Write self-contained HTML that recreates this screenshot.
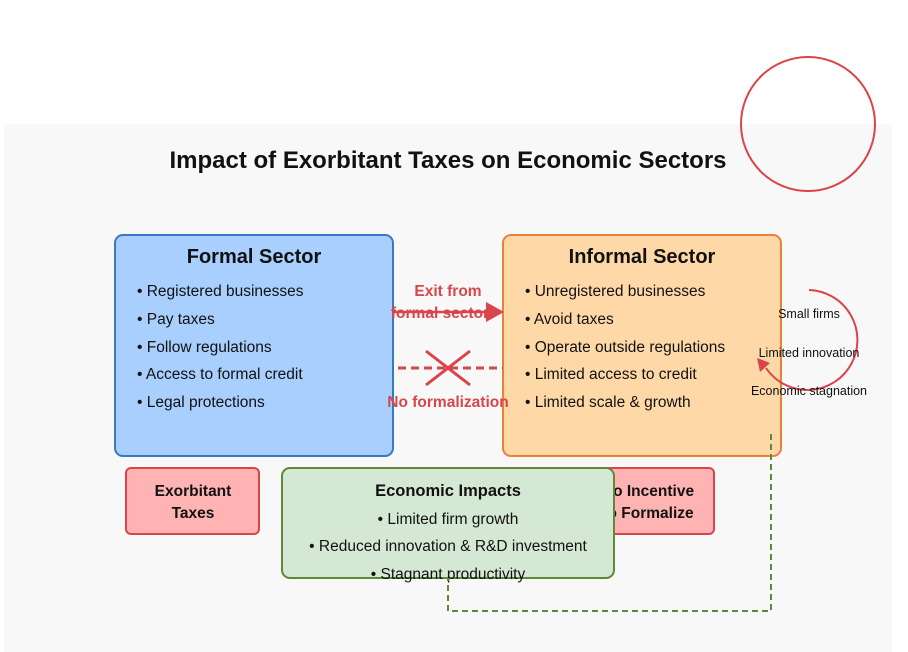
<!DOCTYPE html>
<html><head><meta charset="utf-8"><style>
html,body{margin:0;padding:0;background:#fff;}
svg{display:block;font-family:"Liberation Sans",Arial,sans-serif;}
</style></head><body>
<svg width="908" height="652" viewBox="0 0 908 652">
<rect x="4" y="124" width="888" height="528" fill="#f8f8f8"/>
<circle cx="808" cy="124" r="67" fill="none" stroke="#d9454a" stroke-width="2"/>
<text x="448" y="168" text-anchor="middle" font-size="24" font-weight="bold" fill="#111">Impact of Exorbitant Taxes on Economic Sectors</text>

<g>
<rect x="115" y="235" width="278" height="221" rx="8" fill="#a8cffd" stroke="#3a78c0" stroke-width="2"/>
<text x="254" y="263" text-anchor="middle" font-size="20" font-weight="bold" fill="#111">Formal Sector</text>
<g font-size="15.5" fill="#111">
<text x="137" y="296">• Registered businesses</text>
<text x="137" y="324">• Pay taxes</text>
<text x="137" y="352">• Follow regulations</text>
<text x="137" y="379">• Access to formal credit</text>
<text x="137" y="407">• Legal protections</text>
</g></g>

<g>
<rect x="503" y="235" width="278" height="221" rx="8" fill="#ffd8a8" stroke="#e8823a" stroke-width="2"/>
<text x="642" y="263" text-anchor="middle" font-size="20" font-weight="bold" fill="#111">Informal Sector</text>
<g font-size="15.5" fill="#111">
<text x="525" y="296">• Unregistered businesses</text>
<text x="525" y="324">• Avoid taxes</text>
<text x="525" y="352">• Operate outside regulations</text>
<text x="525" y="379">• Limited access to credit</text>
<text x="525" y="407">• Limited scale &amp; growth</text>
</g></g>

<g>
<line x1="393" y1="312" x2="488" y2="312" stroke="#d9454a" stroke-width="2.5"/>
<polygon points="486,302 504,312 486,322" fill="#d9454a"/>
<text x="448" y="296" text-anchor="middle" font-size="15.5" font-weight="bold" fill="#d9454a">Exit from</text>
<text x="440" y="318" text-anchor="middle" font-size="15.5" font-weight="bold" fill="#d9454a">formal sector</text>
</g>
<g>
<line x1="398" y1="368" x2="503" y2="368" stroke="#d9454a" stroke-width="3" stroke-dasharray="8,5"/>
<line x1="426" y1="351" x2="470" y2="385" stroke="#d9454a" stroke-width="3"/>
<line x1="470" y1="351" x2="426" y2="385" stroke="#d9454a" stroke-width="3"/>
<text x="448" y="407" text-anchor="middle" font-size="15.5" font-weight="bold" fill="#d9454a">No formalization</text>
</g>

<g>
<path d="M809,290 A50,50 0 1 1 766,368" fill="none" stroke="#d9454a" stroke-width="2"/>
<polygon points="757,358 770,363 760,372" fill="#d9454a"/>
<g font-size="12.5" fill="#111" text-anchor="middle">
<text x="809" y="318">Small firms</text>
<text x="809" y="357">Limited innovation</text>
<text x="809" y="395">Economic stagnation</text>
</g></g>

<g>
<rect x="582" y="468" width="132" height="66" rx="5" fill="#ffb3b3" stroke="#d9454a" stroke-width="2"/>
<text x="648" y="496" text-anchor="middle" font-size="15.5" font-weight="bold" fill="#111">No Incentive</text>
<text x="648" y="518" text-anchor="middle" font-size="15.5" font-weight="bold" fill="#111">to Formalize</text>
</g>
<g>
<rect x="126" y="468" width="133" height="66" rx="5" fill="#ffb3b3" stroke="#d9454a" stroke-width="2"/>
<text x="193" y="496" text-anchor="middle" font-size="15.5" font-weight="bold" fill="#111">Exorbitant</text>
<text x="193" y="518" text-anchor="middle" font-size="15.5" font-weight="bold" fill="#111">Taxes</text>
</g>
<g>
<rect x="282" y="468" width="332" height="110" rx="8" fill="#d5e8d4" stroke="#5a8a3a" stroke-width="2"/>
<text x="448" y="496" text-anchor="middle" font-size="16.5" font-weight="bold" fill="#111">Economic Impacts</text>
<g font-size="15.5" fill="#111" text-anchor="middle">
<text x="448" y="524">• Limited firm growth</text>
<text x="448" y="551">• Reduced innovation &amp; R&amp;D investment</text>
<text x="448" y="579">• Stagnant productivity</text>
</g></g>
<path d="M771,434 L771,611 L448,611 L448,578" fill="none" stroke="#5a8a3a" stroke-width="2" stroke-dasharray="6,4"/>
</svg>
</body></html>
